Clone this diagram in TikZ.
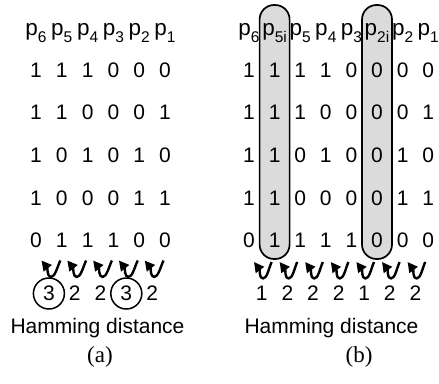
\documentclass[tikz,border=0pt]{standalone}
\usepackage{fontspec}
\setmainfont{Liberation Sans}
\newfontfamily\capserif{Liberation Serif}
\usetikzlibrary{arrows.meta}
\newcommand\subtxt[1]{\raisebox{-7pt}{\fontsize{15.5}{18}\selectfont #1}}
\begin{document}
\begin{tikzpicture}[x=1pt,y=-1pt,
  txt/.style={inner sep=0pt, anchor=base, font=\fontsize{21}{24}\selectfont},
  hdr/.style={inner sep=0pt, anchor=base, font=\fontsize{22.5}{26}\selectfont},
  num/.style={inner sep=0pt, font=\fontsize{21}{24}\selectfont},
  ring/.style={num, draw, circle, line width=1.5pt, minimum size=31pt},
  arr/.style={line width=2.4pt, line join=round, -{Triangle[length=10pt,width=10pt]}},
  band/.style={draw, line width=1.7pt, fill=black!14, rounded corners=14.5pt},
  capt/.style={inner sep=0pt, anchor=base, font=\capserif\fontsize{23}{26}\selectfont}]
\useasboundingbox (0,0) rectangle (439,383);
% ---------- panel (a) ----------
\foreach \s [count=\c] in {6,5,4,3,2,1}
  \node[hdr] (ah\c) at ({36+25.8*(\c-1)},35) {p\subtxt{\s}};
\foreach \y/\row [count=\ri] in {77/{1,1,1,0,0,0},119/{1,1,0,0,0,1},162/{1,0,1,0,1,0},205/{1,0,0,0,1,1},247/{0,1,1,1,0,0}}
  \foreach \b [count=\c] in \row
    \node[txt] (a\ri-\c) at ({36+25.8*(\c-1)},\y) {\b};
\foreach \c in {1,...,5}{
  \pgfmathsetmacro\xl{36+25.8*(\c-1)+5.5}
  \pgfmathsetmacro\xb{36+25.8*(\c-1)+15}
  \pgfmathsetmacro\xr{36+25.8*\c-1.5}
  \coordinate (aR\c) at (\xr,260.5);
  \coordinate (aB\c) at (\xb,277);
  \coordinate (aL\c) at (\xl,260.5);
  \draw[arr] (aR\c) .. controls (\xr-3,267) and (\xb+4,277) .. (aB\c)
                   .. controls (\xb-4,277) and (\xl+6,268) .. (aL\c);
}
\foreach \d/\st [count=\c] in {3/ring,2/num,2/num,3/ring,2/num}
  \node[\st] (ad\c) at ({36+25.8*(\c-0.5)},293.5) {\d};
\node[txt] (ahd) at (97.5,333) {Hamming distance};
\node[capt] (acap) at (100,362) {(a)};
% ---------- panel (b) ----------
\draw[band] (259.6,5) rectangle (289.6,259);
\draw[band] (362,5) rectangle (392,259);
\foreach \s [count=\c] in {6,5i,5,4,3,2i,2,1}
  \node[hdr] (bh\c) at ({249+25.6*(\c-1)},35) {p\subtxt{\s}};
\foreach \y/\row [count=\ri] in {77/{1,1,1,1,0,0,0,0},119/{1,1,1,0,0,0,0,1},162/{1,1,0,1,0,0,1,0},205/{1,1,0,0,0,0,1,1},247/{0,1,1,1,1,0,0,0}}
  \foreach \b [count=\c] in \row
    \node[txt] (b\ri-\c) at ({249+25.6*(\c-1)},\y) {\b};
\foreach \c in {1,...,7}{
  \pgfmathsetmacro\xl{249+25.6*(\c-1)+5}
  \pgfmathsetmacro\xb{249+25.6*(\c-1)+14}
  \pgfmathsetmacro\xr{249+25.6*\c-3}
  \coordinate (bR\c) at (\xr,262);
  \coordinate (bB\c) at (\xb,278.5);
  \coordinate (bL\c) at (\xl,262);
  \draw[arr] (bR\c) .. controls (\xr-3,269) and (\xb+4,278.5) .. (bB\c)
                   .. controls (\xb-4,278.5) and (\xl+6,270) .. (bL\c);
}
\foreach \d [count=\c] in {1,2,2,2,1,2,2}
  \node[num] (bd\c) at ({249+25.6*(\c-0.5)},293) {\d};
\node[txt] (bhd) at (331.5,333) {Hamming distance};
\node[capt] (bcap) at (359,362) {(b)};
\end{tikzpicture}
\end{document}
